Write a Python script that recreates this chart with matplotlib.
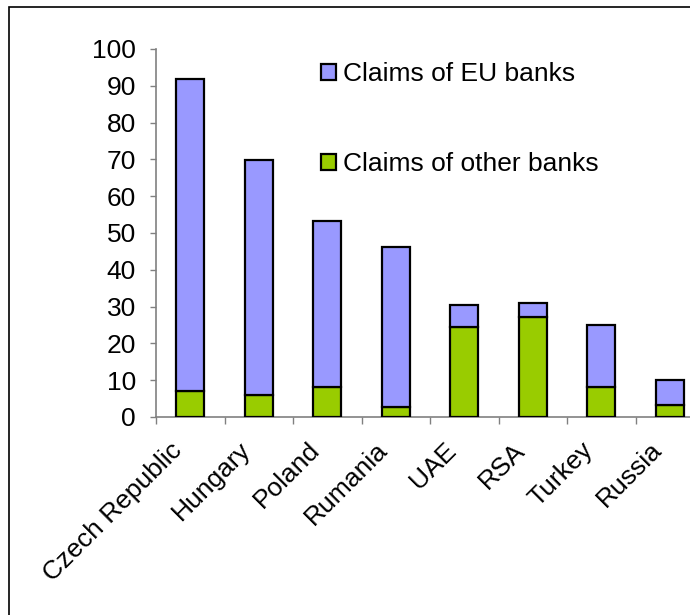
import numpy as np
import matplotlib
matplotlib.use("Agg")
from matplotlib import pyplot as plt
from matplotlib.patches import Rectangle
from matplotlib.transforms import ScaledTranslation

plt.rcParams['font.family'] = ['Liberation Sans', 'DejaVu Sans']

countries = ['Czech Republic', 'Hungary', 'Poland', 'Rumania',
             'UAE', 'RSA', 'Turkey', 'Russia']
other_banks = [7.2, 6.1, 8.2, 2.8, 24.5, 27.2, 8.2, 3.3]
eu_banks = [84.6, 63.7, 45.1, 43.4, 6.0, 3.9, 16.9, 6.7]

EU_BLUE = '#9999ff'
OTHER_GREEN = '#99cc00'
AXIS_GREY = '#808080'
FONT_SIZE = 19


def run():
    fig = plt.figure(figsize=(6.9, 6.15), dpi=100)
    ax = fig.add_axes([156 / 690, 198 / 615, 548 / 690, 368 / 615])

    x = np.arange(len(countries))
    width = 0.41
    ax.bar(x, other_banks, width, color=OTHER_GREEN, edgecolor='black',
           linewidth=1.6, label='Claims of other banks')
    ax.bar(x, eu_banks, width, bottom=other_banks, color=EU_BLUE,
           edgecolor='black', linewidth=1.6, label='Claims of EU banks')

    ax.set_xlim(-0.5, len(countries) - 0.5)
    ax.set_ylim(0, 100)
    ax.set_yticks(np.arange(0, 101, 10))

    # labels sit under the bars, tick marks between categories
    ax.set_xticks(x)
    ax.set_xticklabels(countries, rotation=45, ha='right',
                       rotation_mode='anchor', fontsize=FONT_SIZE)
    ax.set_xticks(np.arange(-0.5, len(countries), 1), minor=True)
    ax.tick_params(axis='x', which='major', length=0, pad=15)
    ax.tick_params(axis='x', which='minor', length=5, width=1,
                   color=AXIS_GREY, direction='out')
    ax.tick_params(axis='y', length=4, width=1, color=AXIS_GREY,
                   direction='out', pad=10.5, labelsize=FONT_SIZE)

    # nudge the slanted names left so they end just under each bar
    shift = ScaledTranslation(-20 / 100, 0, fig.dpi_scale_trans)
    for lab in ax.get_xticklabels():
        lab.set_transform(lab.get_transform() + shift)

    for side in ('top', 'right'):
        ax.spines[side].set_visible(False)
    for side in ('left', 'bottom'):
        ax.spines[side].set_color(AXIS_GREY)
        ax.spines[side].set_linewidth(1.2)
    ax.spines['bottom'].set_zorder(0)

    handles, labels = ax.get_legend_handles_labels()
    fig.legend(handles[::-1], labels[::-1], loc='upper left',
               bbox_to_anchor=(321 / 690, 1 - 62 / 615), frameon=False,
               fontsize=FONT_SIZE, handlelength=0.55, handleheight=0.55,
               handletextpad=0.3, labelspacing=2.5, borderaxespad=0,
               borderpad=0)

    # chart border, open towards the right and bottom edges
    fig.patches.append(Rectangle((9 / 690, -0.1), 1.0, 1.1 - 7 / 615,
                                 transform=fig.transFigure, fill=False,
                                 edgecolor='black', linewidth=1.2))

    fig.savefig('out.png', dpi=100)


if __name__ == "__main__":
    run()
